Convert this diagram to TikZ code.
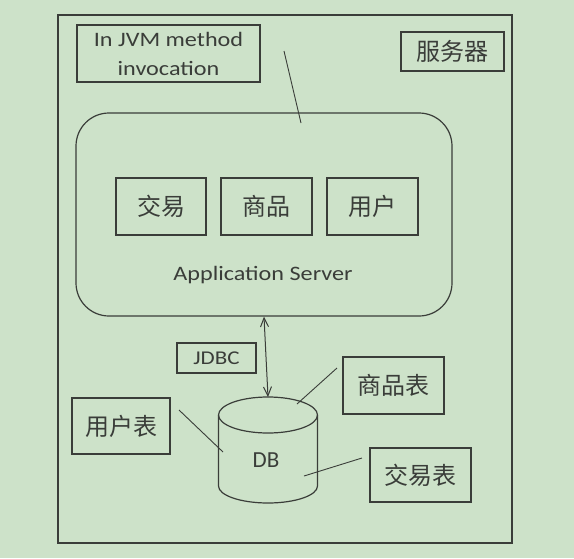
\documentclass[tikz,border=0pt]{standalone}
\usepackage{fontspec}
\setmainfont{Carlito}[FakeStretch=1.18]
\newfontfamily\plainfont{Carlito}
\newfontfamily\cjk{Noto Sans CJK SC}
\usetikzlibrary{arrows.meta}
\definecolor{bg}{HTML}{CDE2C9}
\definecolor{ink}{HTML}{3A3D39}

\begin{document}
\begin{tikzpicture}[x=1pt,y=-1pt,color=ink,line width=1.2pt,
 box/.style={draw, inner sep=0pt, align=center},
 cnbox/.style={box, font=\cjk\fontsize{24}{28}\selectfont},
 enbox/.style={box, font=\fontsize{20.5}{29}\selectfont},
 container/.style={draw, rounded corners=33pt, minimum width=376pt, minimum height=203pt},
 pointer/.style={line width=0.9pt},
 dbarrow/.style={<->, >={Straight Barb[length=9pt,width=8pt]}, line width=1pt}]

    \useasboundingbox (0,0) rectangle (574,558);
    \fill[bg] (0,0) rectangle (574,558);

    \node[draw, minimum width=454pt, minimum height=528pt, line width=1.4pt] (server) at (285,279) {};
    \node[enbox, minimum width=183pt, minimum height=57pt] (jvm) at (168.5,53.5) {In JVM method\\invocation};
    \node[cnbox, minimum width=103pt, minimum height=39pt] (fwq) at (452.5,51.5) {服务器};

    \node[container] (appsrv) at (264,214.5) {};
    \node[cnbox, minimum width=90pt, minimum height=57pt] (jiaoyi) at (161,206.5) {交易};
    \node[cnbox, minimum width=91pt, minimum height=57pt] (shangpin) at (266.5,206.5) {商品};
    \node[cnbox, minimum width=91pt, minimum height=57pt] (yonghu) at (372.5,206.5) {用户};
    \node[font=\fontsize{20.5}{24}\selectfont, anchor=base] (appname) at (263,280) {Application Server};

    \node[box, font=\fontsize{19.5}{24}\selectfont, minimum width=79pt, minimum height=30pt] (jdbc) at (216.5,358) {JDBC};
    \node[cnbox, minimum width=101pt, minimum height=57pt] (spb) at (393.5,385.5) {商品表};
    \node[cnbox, minimum width=98pt, minimum height=56pt] (yhb) at (121,426) {用户表};
    \node[cnbox, minimum width=101pt, minimum height=54pt] (jyb) at (420.5,475) {交易表};

    % database
    \draw (268,415) ellipse [x radius=49.5pt, y radius=18pt];
    \draw (218.5,415) -- (218.5,486) arc[start angle=180, end angle=360, x radius=49.5pt, y radius=17pt] -- (317.5,415);
    \node[font=\plainfont\fontsize{23}{28}\selectfont] (db) at (266,460) {DB};
    \coordinate (dbtop) at (268,397);
    \draw[dbarrow] (appsrv.south) -- (dbtop);

    % callouts
    \coordinate (jvmhead) at (284,51);
    \coordinate (jvmfoot) at (301,123);
    \coordinate (spbhead) at (337,368);
    \coordinate (spbfoot) at (297,404);
    \coordinate (yhbhead) at (179,410);
    \coordinate (yhbfoot) at (223,452);
    \coordinate (jybhead) at (362,458);
    \coordinate (jybfoot) at (304,476);
    \draw[pointer] (jvmhead) -- (jvmfoot);
    \draw[pointer] (spbhead) -- (spbfoot);
    \draw[pointer] (yhbhead) -- (yhbfoot);
    \draw[pointer] (jybhead) -- (jybfoot);
\end{tikzpicture}
\end{document}
